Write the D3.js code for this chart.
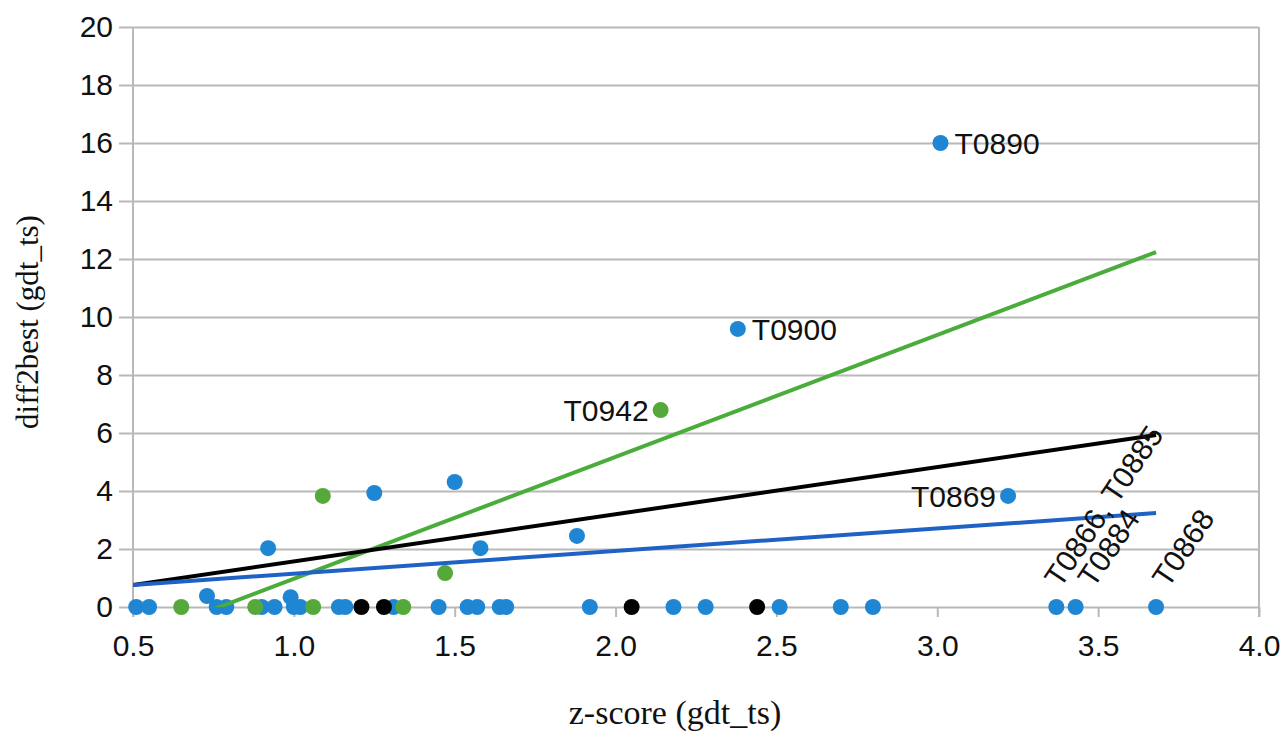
<!DOCTYPE html>
<html>
<head>
<meta charset="utf-8">
<script src="https://cdn.jsdelivr.net/npm/d3@7"></script>
<style>
  html, body { margin: 0; padding: 0; background: #fff; }
  svg { display: block; }
</style>
</head>
<body>
<svg id="chart" width="1288" height="731"></svg>
<script>
// ---- data ----
const xTicks = [0.5, 1.0, 1.5, 2.0, 2.5, 3.0, 3.5, 4.0];
const yTicks = [0, 2, 4, 6, 8, 10, 12, 14, 16, 18, 20];

const blueX = [0.51, 0.55, 0.73, 0.76, 0.79, 0.90, 0.92, 0.94, 0.99, 1.00, 1.02, 1.14, 1.16, 1.25, 1.31,
               1.45, 1.50, 1.54, 1.57, 1.58, 1.64, 1.66, 1.88, 1.92, 2.18, 2.28, 2.38, 2.51, 2.70, 2.80,
               3.01, 3.22, 3.37, 3.43, 3.68];
const blueY = [0, 0, 0.38, 0, 0, 0, 2.03, 0, 0.34, 0, 0, 0, 0, 3.93, 0,
               0, 4.31, 0, 0, 2.03, 0, 0, 2.45, 0, 0, 0, 9.59, 0, 0, 0,
               16.0, 3.83, 0, 0, 0];

const greenX = [0.65, 0.88, 1.06, 1.09, 1.34, 1.47, 2.14];
const greenY = [0, 0, 0, 3.83, 0, 1.17, 6.79];

const blackX = [1.21, 1.28, 2.05, 2.44];
const blackY = [0, 0, 0, 0];

// trend lines: [x start, y start, x end, y end]
const blueTrend  = [0.5, 0.76, 3.68, 3.24];
const blackTrend = [0.5, 0.76, 3.68, 5.93];
const greenTrend = [0.5, -1.13, 3.68, 12.24];

// point labels
const labelText   = ["T0890", "T0900", "T0942", "T0869", "T0866, T0885", "T0884", "T0868"];
const labelX      = [3.01, 2.38, 2.14, 3.22, 3.37, 3.43, 3.68];
const labelY      = [16.0, 9.59, 6.79, 3.83, 0, 0, 0];
const labelSide   = ["right", "right", "left", "left", "rot", "rot", "rot"];

// ---- drawing ----
const svg = d3.select("#chart");
const M = { left: 133, right: 1259, top: 27, bottom: 607 };
const x = d3.scaleLinear().domain([0.5, 4.0]).range([M.left, M.right]);
const y = d3.scaleLinear().domain([0, 20]).range([M.bottom, M.top]);

const C = { blue: "#1f86d3", green: "#55a83a", black: "#000000",
            blueLine: "#1f62c6", greenLine: "#4aad3b", grid: "#b9b9b9" };
const SANS = "Liberation Sans, Arial, sans-serif";
const SERIF = "Liberation Serif, Times New Roman, serif";

svg.append("defs").append("clipPath").attr("id", "plotClip")
  .append("rect").attr("x", M.left).attr("y", M.top - 2)
  .attr("width", M.right - M.left).attr("height", M.bottom - M.top + 2);

// horizontal gridlines + y axis
const yAxis = d3.axisLeft(y).tickValues(yTicks).tickSize(M.right - M.left + 14)
  .tickFormat(d3.format("d")).tickPadding(6);
const gy = svg.append("g").attr("transform", `translate(${M.right},0)`).call(yAxis);
gy.select(".domain").remove();
gy.selectAll(".tick line").attr("stroke", C.grid).attr("stroke-width", 2);
gy.selectAll(".tick text").attr("font-family", SANS).attr("font-size", 30).attr("fill", "#111");

// x axis
const xAxis = d3.axisBottom(x).tickValues(xTicks).tickFormat(d3.format(".1f"))
  .tickSize(10).tickPadding(18);
const gx = svg.append("g").attr("transform", `translate(0,${M.bottom})`).call(xAxis);
gx.select(".domain").remove();
gx.selectAll(".tick line").attr("stroke", C.grid).attr("stroke-width", 2);
gx.selectAll(".tick text").attr("font-family", SANS).attr("font-size", 30).attr("fill", "#111");

// left & right vertical lines
svg.append("line").attr("x1", M.left).attr("x2", M.left).attr("y1", M.top).attr("y2", M.bottom + 10)
  .attr("stroke", C.grid).attr("stroke-width", 2);
svg.append("line").attr("x1", M.right).attr("x2", M.right).attr("y1", M.top).attr("y2", M.bottom + 10)
  .attr("stroke", C.grid).attr("stroke-width", 2);

// points
function drawPoints(xs, ys, color) {
  svg.append("g").selectAll("circle").data(xs.map((v, i) => [v, ys[i]])).join("circle")
    .attr("cx", d => x(d[0])).attr("cy", d => y(d[1])).attr("r", 8).attr("fill", color);
}
drawPoints(blueX, blueY, C.blue);
drawPoints(greenX, greenY, C.green);
drawPoints(blackX, blackY, C.black);

// trend lines
const lg = svg.append("g").attr("clip-path", "url(#plotClip)");
function drawTrend(t, color) {
  lg.append("line").attr("x1", x(t[0])).attr("y1", y(t[1])).attr("x2", x(t[2])).attr("y2", y(t[3]))
    .attr("stroke", color).attr("stroke-width", 4);
}
drawTrend(greenTrend, C.greenLine);
drawTrend(blackTrend, C.black);
drawTrend(blueTrend, C.blueLine);

// labels (rotated ones get a small horizontal nudge each so they stay apart)
const rotNudge = [4, 18, 12];
let rotIdx = 0;
const lab = svg.append("g").attr("font-family", SANS).attr("font-size", 30).attr("fill", "#111");
labelText.forEach((t, i) => {
  const px = x(labelX[i]), py = y(labelY[i]);
  if (labelSide[i] === "right") {
    lab.append("text").attr("x", px + 14).attr("y", py + 11).text(t);
  } else if (labelSide[i] === "left") {
    lab.append("text").attr("x", px - 12).attr("y", py + 11).attr("text-anchor", "end").text(t);
  } else {
    const n = rotNudge[rotIdx++];
    lab.append("text").attr("transform", `translate(${px + n},${py - 18}) rotate(-56)`).text(t);
  }
});

// axis titles
svg.append("text").attr("x", 675).attr("y", 724).attr("text-anchor", "middle")
  .attr("font-family", SERIF).attr("font-size", 34).attr("fill", "#111").text("z-score (gdt_ts)");
svg.append("text").attr("transform", "translate(38,322) rotate(-90)").attr("text-anchor", "middle")
  .attr("font-family", SERIF).attr("font-size", 31).attr("fill", "#111").text("diff2best (gdt_ts)");
</script>
</body>
</html>
